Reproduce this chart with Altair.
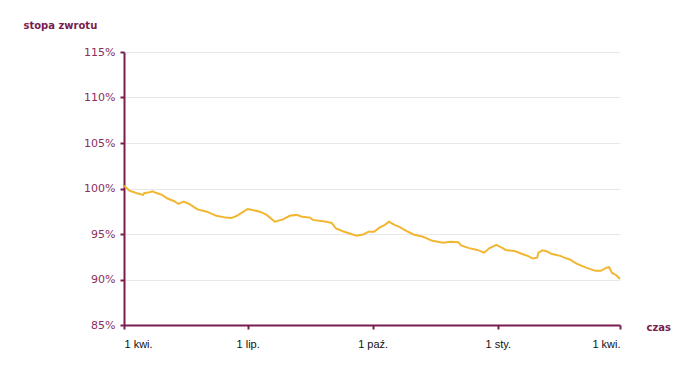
import altair as alt
import pandas as pd

start = "2021-04-01"
dates = [
    "2021-04-01", "2021-04-02", "2021-04-05", "2021-04-10", "2021-04-15", "2021-04-16",
    "2021-04-19", "2021-04-22", "2021-04-25", "2021-04-29", "2021-05-03", "2021-05-08",
    "2021-05-11", "2021-05-15", "2021-05-19", "2021-05-25", "2021-06-01", "2021-06-08",
    "2021-06-15", "2021-06-19", "2021-06-23", "2021-06-28", "2021-07-01", "2021-07-10",
    "2021-07-15", "2021-07-21", "2021-07-27", "2021-08-01", "2021-08-06", "2021-08-10",
    "2021-08-16", "2021-08-18", "2021-08-28", "2021-09-01", "2021-09-04", "2021-09-09",
    "2021-09-14", "2021-09-19", "2021-09-24", "2021-09-28", "2021-10-02", "2021-10-06",
    "2021-10-10", "2021-10-13", "2021-10-17", "2021-10-21", "2021-10-25", "2021-10-31",
    "2021-11-07", "2021-11-14", "2021-11-22", "2021-11-27", "2021-12-03", "2021-12-05",
    "2021-12-11", "2021-12-17", "2021-12-22", "2021-12-26", "2021-12-31", "2022-01-04",
    "2022-01-07", "2022-01-14", "2022-01-19", "2022-01-23", "2022-01-27", "2022-01-30",
    "2022-01-31", "2022-02-03", "2022-02-06", "2022-02-10", "2022-02-16", "2022-02-19",
    "2022-02-23", "2022-02-28", "2022-03-07", "2022-03-14", "2022-03-18", "2022-03-22",
    "2022-03-24", "2022-03-26", "2022-03-29", "2022-04-01",
]
values = [
    100.3, 100.2, 99.76, 99.5, 99.3, 99.5,
    99.55, 99.7, 99.5, 99.3, 98.9, 98.6,
    98.3, 98.55, 98.3, 97.7, 97.45, 97.0,
    96.8, 96.75, 97.0, 97.45, 97.75, 97.45,
    97.1, 96.35, 96.6, 97.0, 97.1, 96.9,
    96.8, 96.55, 96.35, 96.2, 95.6, 95.3,
    95.05, 94.8, 94.95, 95.25, 95.25, 95.7,
    96.0, 96.35, 96.0, 95.75, 95.4, 94.95,
    94.7, 94.25, 94.05, 94.15, 94.1, 93.75,
    93.45, 93.25, 92.95, 93.45, 93.8, 93.5,
    93.25, 93.1, 92.8, 92.6, 92.3, 92.4,
    92.95, 93.2, 93.1, 92.8, 92.6, 92.4,
    92.2, 91.75, 91.3, 90.95, 90.95, 91.3,
    91.35, 90.75, 90.5, 90.05,
]
tick_dates = ["2021-04-01", "2021-07-01", "2021-10-01", "2022-01-01", "2022-04-01"]
tick_labels = ["1 kwi.", "1 lip.", "1 paź.", "1 sty.", "1 kwi."]
y_ticks = [85, 90, 95, 100, 105, 110, 115]

t0 = pd.Timestamp(start)
days = [(pd.Timestamp(d) - t0).days for d in dates]
tick_days = [(pd.Timestamp(d) - t0).days for d in tick_dates]
df = pd.DataFrame({"day": days, "val": values})

label_map = "{" + ",".join(f"'{d}':'{l}'" for d, l in zip(tick_days, tick_labels)) + "}"

MAROON = "#7B1C4E"

chart = (
    alt.Chart(df)
    .mark_line(color="#F2B630", strokeWidth=2)
    .encode(
        x=alt.X(
            "day:Q",
            scale=alt.Scale(domain=[tick_days[0], tick_days[-1]], nice=False, zero=False),
            axis=alt.Axis(
                values=tick_days,
                labelExpr=f"{label_map}[datum.value]",
                grid=False,
                title="czas",
                titleAngle=0,
                titleX=522,
                titleY=2,
                titleAlign="left",
                titleBaseline="middle",
                titleFont="DejaVu Sans",
                titleFontSize=10,
                titleFontWeight="bold",
                titleColor=MAROON,
                labelFont="Liberation Sans",
                labelFontSize=11,
                labelColor="#111111",
                labelPadding=9,
                tickSize=4,
                tickColor=MAROON,
                tickWidth=2,
                domainColor=MAROON,
                domainWidth=2,
                labelFlush=True,
            ),
        ),
        y=alt.Y(
            "val:Q",
            scale=alt.Scale(domain=[85, 115], nice=False, zero=False),
            axis=alt.Axis(
                values=y_ticks,
                labelExpr="datum.value + '%'",
                grid=True,
                gridColor="#E8E8E8",
                gridWidth=1,
                title="stopa zwrotu",
                titleAngle=0,
                titleX=-101,
                titleY=-27,
                titleAlign="left",
                titleBaseline="middle",
                titleFont="DejaVu Sans",
                titleFontSize=10,
                titleFontWeight="bold",
                titleColor=MAROON,
                labelFont="DejaVu Sans",
                labelFontSize=11,
                labelColor="#8A2F5F",
                labelPadding=5,
                tickSize=4,
                tickColor=MAROON,
                tickWidth=2,
                domainColor=MAROON,
                domainWidth=2,
            ),
        ),
    )
    .properties(
        width=496,
        height=273,
        autosize=alt.AutoSizeParams(type="none"),
        padding={"left": 124, "top": 52, "right": 75, "bottom": 51},
        view=alt.ViewBackground(stroke="white", strokeWidth=0, fill="white"),
    )
    .configure_view(stroke=None, strokeWidth=0)
    .configure(background="white")
)

chart.save("out.html", embed_options={"renderer": "svg", "actions": False})
